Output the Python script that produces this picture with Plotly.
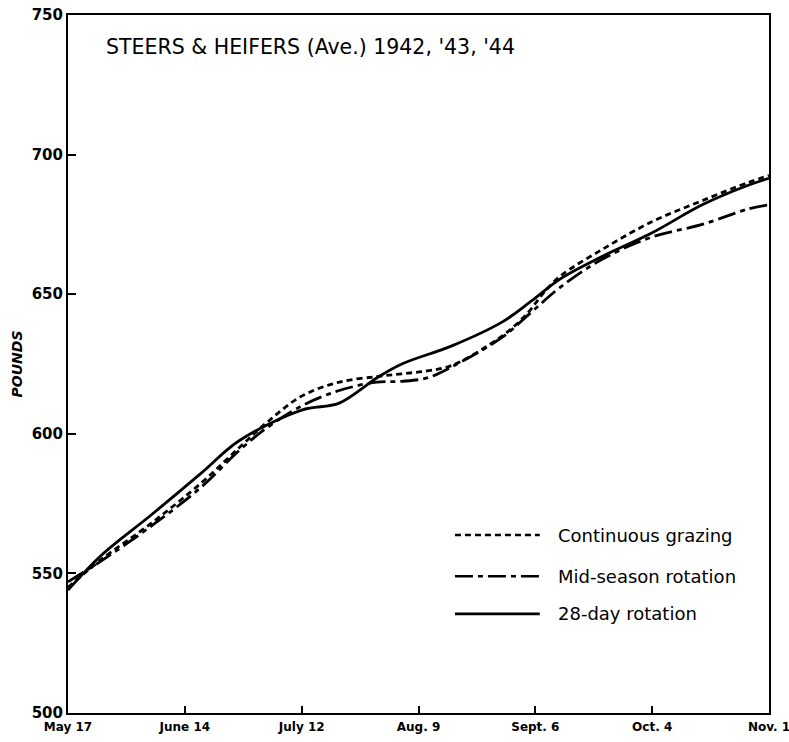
import plotly.graph_objects as go

# Days since May 17
tick_days = [0, 28, 56, 84, 112, 140, 168]
tick_labels = ["May 17", "June 14", "July 12", "Aug. 9", "Sept. 6", "Oct. 4", "Nov. 1"]
y_ticks = [500, 550, 600, 650, 700, 750]

rot28_days = [0, 8, 20, 32, 41, 56, 65, 74, 80, 92, 104, 111, 118, 128, 140, 152, 163, 168]
rot28_vals = [544, 556.5, 571, 586, 597.5, 608.5, 611, 620, 625, 631.5, 640, 647.5, 655.5, 663.5, 672, 682, 689, 691.5]

cont_days = [0, 8, 20, 32, 41, 48, 56, 65, 74, 80, 86, 92, 104, 110, 114, 118, 128, 140, 152, 163, 168]
cont_vals = [545, 555, 568, 582.5, 595, 604.5, 613.5, 618.5, 620.5, 621.5, 622.5, 624.5, 635, 643, 650.5, 656.5, 666, 676, 683.5, 690, 692.5]

mid_days = [0, 8, 20, 32, 41, 48, 56, 65, 74, 80, 86, 92, 104, 111, 118, 128, 140, 152, 163, 168]
mid_vals = [547, 554.5, 567, 581, 594, 602.5, 610, 615.5, 618.5, 618.8, 620, 624, 634.5, 643.5, 652.5, 662.5, 670.5, 675, 680.5, 682]

series_names = ["Continuous grazing", "Mid-season rotation", "28-day rotation"]
dashes = ["6px,4px", "18px,5px,5px,5px", "solid"]

fig = go.Figure()
for name, xs, ys, d in [
    (series_names[0], cont_days, cont_vals, dashes[0]),
    (series_names[1], mid_days, mid_vals, dashes[1]),
    (series_names[2], rot28_days, rot28_vals, dashes[2]),
]:
    fig.add_trace(go.Scatter(x=xs, y=ys, mode="lines", name=name,
                             line=dict(color="black", width=2.8, dash=d, shape="spline", smoothing=1.0),
                             showlegend=False, hoverinfo="skip"))

font_main = "DejaVu Sans"

# Legend drawn manually
leg_y = [0.255, 0.196, 0.142]
shapes = []
annotations = []
for name, d, yy in zip(series_names, dashes, leg_y):
    shapes.append(dict(type="line", xref="paper", yref="paper", x0=0.552, x1=0.673, y0=yy, y1=yy,
                       line=dict(color="black", width=2.6, dash=d)))
    annotations.append(dict(xref="paper", yref="paper", x=0.696, y=yy, text=name, showarrow=False,
                            xanchor="left", yanchor="middle",
                            font=dict(family=font_main, size=18, color="black")))

annotations.append(dict(xref="paper", yref="paper", x=0.052, y=0.954,
                        text="STEERS &amp; HEIFERS (Ave.) 1942, '43, '44", showarrow=False,
                        xanchor="left", yanchor="middle",
                        font=dict(family=font_main, size=20.5, color="black")))

fig.update_layout(
    width=789, height=742,
    margin=dict(l=68, r=20, t=15, b=29),
    paper_bgcolor="white", plot_bgcolor="white",
    shapes=shapes, annotations=annotations,
    xaxis=dict(range=[0, 168], tickvals=tick_days, ticktext=["<b>%s</b>" % t for t in tick_labels],
               automargin=False, ticklabeloverflow="allow", ticklabelstandoff=2,
               showgrid=False, zeroline=False, showline=True, linecolor="black", linewidth=2,
               mirror=True, ticks="inside", ticklen=7, tickwidth=1.5, tickcolor="black",
               tickfont=dict(family=font_main, size=12, color="black")),
    yaxis=dict(range=[500, 750], tickvals=y_ticks,
               ticktext=["<b>%d</b>" % v for v in y_ticks],
               automargin=False, ticklabeloverflow="allow",
               showgrid=False, zeroline=False, showline=True, linecolor="black", linewidth=2,
               mirror=True, ticks="inside", ticklen=8, tickwidth=1.5, tickcolor="black",
               tickfont=dict(family=font_main, size=15, color="black"),
               title=dict(text="<b><i>POUNDS</i></b>", standoff=6,
                          font=dict(family=font_main, size=14, color="black"))),
)

fig.write_html("out.html", config={"displayModeBar": False},
               post_script="document.body.style.margin='0';document.body.style.overflow='hidden';")
